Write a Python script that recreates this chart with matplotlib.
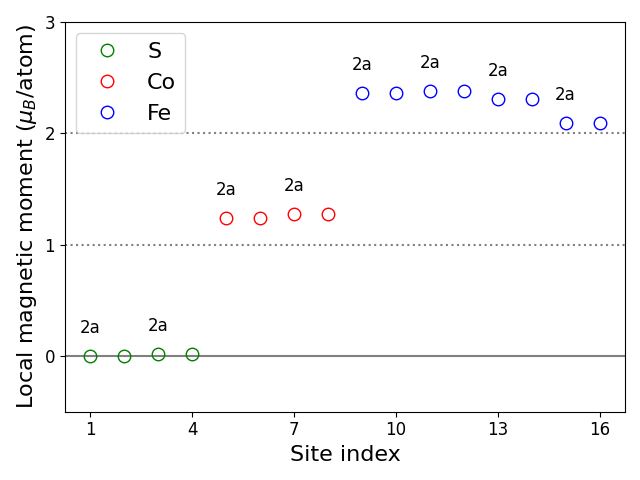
import numpy as np
import matplotlib
matplotlib.use("Agg")
import matplotlib.pyplot as plt

# site index and local moments
s_sites = [1, 2, 3, 4]
s_mom = [0.00, 0.00, 0.02, 0.02]
co_sites = [5, 6, 7, 8]
co_mom = [1.24, 1.24, 1.28, 1.28]
fe_sites = [9, 10, 11, 12, 13, 14, 15, 16]
fe_mom = [2.36, 2.36, 2.38, 2.38, 2.31, 2.31, 2.09, 2.09]

wyckoff_label = "2a"

fig, ax = plt.subplots(figsize=(6.4, 4.8))

ax.axhline(0, color='gray', lw=1.5)
ax.axhline(1, color='gray', ls=':', lw=1.5)
ax.axhline(2, color='gray', ls=':', lw=1.5)

ax.plot(s_sites, s_mom, 'o', mfc='none', mec='green', ms=9, label='S')
ax.plot(co_sites, co_mom, 'o', mfc='none', mec='red', ms=9, label='Co')
ax.plot(fe_sites, fe_mom, 'o', mfc='none', mec='blue', ms=9, label='Fe')

# label every other site with its Wyckoff position
for sites, mom in [(s_sites, s_mom), (co_sites, co_mom), (fe_sites, fe_mom)]:
    for x, y in zip(sites[::2], mom[::2]):
        ax.text(x, y + 0.25, wyckoff_label, ha='center', va='center', fontsize=12)

ax.set_ylim(-0.5, 3)
ax.set_yticks([0, 1, 2, 3])
ax.set_xticks([1, 4, 7, 10, 13, 16])
ax.tick_params(labelsize=12)
ax.set_xlabel("Site index", fontsize=16)
ax.set_ylabel(r"Local magnetic moment ($\mu_B$/atom)", fontsize=16)
ax.legend(fontsize=16, loc='upper left')

plt.tight_layout()
plt.savefig("out.png", dpi=100)
